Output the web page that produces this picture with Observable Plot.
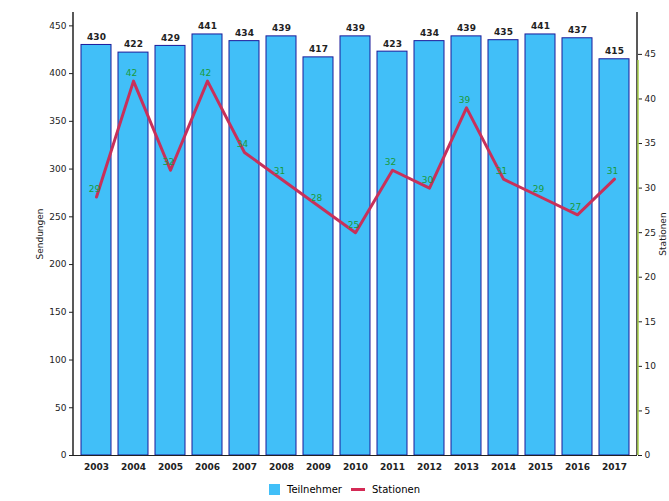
<!DOCTYPE html>
<html>
<head>
<meta charset="utf-8">
<script src="https://cdn.jsdelivr.net/npm/d3@7"></script>
<script src="https://cdn.jsdelivr.net/npm/@observablehq/plot@0.6"></script>
<style>
  body { margin: 0; background: #fff; font-family: "DejaVu Sans", sans-serif; }
  #legend { display: flex; justify-content: center; align-items: center; gap: 5px; font-size: 10px; height: 23px; margin-left: 20px; }
  .sw { display: inline-block; width: 11px; height: 11px; background: #41bff8; margin-right: 2px; }
  .ln { display: inline-block; width: 14px; height: 3px; background: #d42a55; margin-right: 2px; }
</style>
</head>
<body>
<div id="chart"></div>
<div id="legend"><span class="sw"></span><span>Teilnehmer</span><span class="ln" style="margin-left:4px"></span><span>Stationen</span></div>
<script>
const years = ["2003","2004","2005","2006","2007","2008","2009","2010","2011","2012","2013","2014","2015","2016","2017"];
const barValues = [430, 422, 429, 441, 434, 439, 417, 439, 423, 434, 439, 435, 441, 437, 415];
const lineValues = [29, 42, 32, 42, 34, 31, 28, 25, 32, 30, 39, 31, 29, 27, 31];
const leftTicks = [0, 50, 100, 150, 200, 250, 300, 350, 400, 450];
const rightTicks = [0, 5, 10, 15, 20, 25, 30, 35, 40, 45];
const leftMax = 464, rightMax = 49.7;
const k = leftMax / rightMax;

const data = years.map((y, i) => ({year: y, bar: barValues[i], line: lineValues[i], lineY: lineValues[i] * k}));

const chart = Plot.plot({
  width: 669,
  height: 478,
  marginTop: 12,
  marginBottom: 23,
  marginLeft: 73,
  marginRight: 32,
  style: {fontFamily: "DejaVu Sans, sans-serif", fontSize: "9px", color: "#222"},
  x: {domain: years, padding: 0.2, label: null, tickSize: 0},
  y: {domain: [0, leftMax], label: null},
  marks: [
    Plot.barY(data, {x: "year", y: "bar", fill: "#41bff8", stroke: "#1a1a9a", strokeWidth: 1}),
    Plot.text(data, {x: "year", y: "bar", text: d => String(d.bar), dy: -8, fontSize: 9, fontWeight: "bold", fill: "#222"}),
    Plot.line(data, {x: "year", y: "lineY", stroke: "#c8305a", strokeWidth: 3}),
    Plot.text(data, {x: "year", y: "lineY", text: d => String(d.line), dy: -8, dx: -2, fontSize: 9, fill: "#1a9a3a"}),
    Plot.axisX({tickSize: 0, tickPadding: 8, fontSize: 9, fontWeight: "bold"}),
    Plot.axisY({ticks: leftTicks, tickSize: 4, tickPadding: 3, label: "Sendungen", labelAnchor: "center", labelArrow: "none", labelOffset: 37, fontSize: 9}),
    Plot.axisY({anchor: "right", ticks: rightTicks.map(t => t * k), tickFormat: d => String(Math.round(d / k)), tickSize: 4, tickPadding: 3, label: "Stationen", labelAnchor: "center", labelArrow: "none", labelOffset: 28, fontSize: 9}),
    Plot.ruleY([0], {stroke: "#222"})
  ]
});

// axis lines
const svg = d3.select(chart);
svg.append("line").attr("x1", 637).attr("x2", 637).attr("y1", 12).attr("y2", 455).attr("stroke", "#222").attr("stroke-width", 1.5);
svg.append("line").attr("x1", 638).attr("x2", 638).attr("y1", 60).attr("y2", 455).attr("stroke", "#a7d14a").attr("stroke-width", 1.5);
svg.append("line").attr("x1", 73).attr("x2", 73).attr("y1", 12).attr("y2", 455).attr("stroke", "#222").attr("stroke-width", 1.5);
document.getElementById("chart").appendChild(chart);
</script>
</body>
</html>
